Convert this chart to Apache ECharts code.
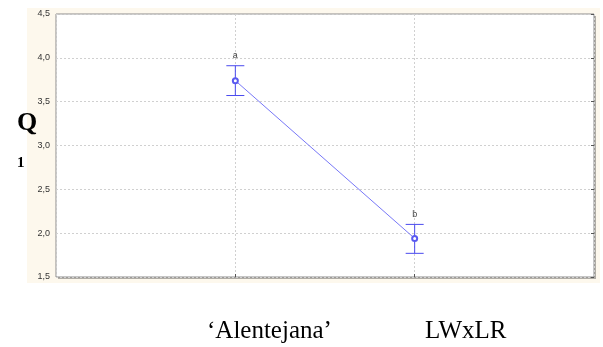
<!DOCTYPE html>
<html>
<head>
<meta charset="utf-8">
<script src="https://cdn.jsdelivr.net/npm/echarts@6/dist/echarts.min.js"></script>
<style>
  html, body { margin: 0; padding: 0; background: #fff; }
  #chart { width: 603px; height: 347px; }
</style>
</head>
<body>
<div id="chart"></div>
<script>
// data
var categories = ['\u2018Alentejana\u2019', 'LWxLR'];
var means = [3.74, 1.94];
var upper = [3.91, 2.10];
var lower = [3.57, 1.77];
var groupLetters = ['a', 'b'];
var yTicks = [1.5, 2.0, 2.5, 3.0, 3.5, 4.0, 4.5];

// padded category axis so the two groups sit at 1/3 and 2/3 of the width
var axisCats = [''].concat(categories).concat(['']);

var myChart = echarts.init(document.getElementById('chart'));

var gridLine = { show: true, lineStyle: { color: '#d0d0d0', type: [2, 2], width: 1 } };
var serif = '"Liberation Serif", "DejaVu Serif", serif';

var option = {
  animation: false,
  grid: {
    left: 56, top: 14, right: 9, bottom: 70,
    show: true,
    backgroundColor: '#fff',
    borderColor: '#8c8c8c',
    borderWidth: 1
  },
  graphic: [
    { type: 'rect', z: -10, shape: { x: 27, y: 8, width: 573, height: 275 }, style: { fill: '#fdf8ed' } },
    // drop shadow of the plot frame
    { type: 'rect', z: -9, shape: { x: 58, y: 16, width: 538, height: 263 }, style: { fill: '#b0ada6' } },
    { type: 'text', left: 17, top: 110, style: { text: 'Q', font: 'bold 26px ' + serif, fill: '#000' } },
    { type: 'text', left: 17, top: 156, style: { text: '1', font: 'bold 15px ' + serif, fill: '#000' } },
    { type: 'text', left: 207, top: 319, style: { text: categories[0], font: '25px ' + serif, fill: '#000' } },
    { type: 'text', left: 425, top: 319, style: { text: categories[1], font: '25px ' + serif, fill: '#000' } }
  ],
  xAxis: {
    type: 'category',
    data: axisCats,
    boundaryGap: false,
    axisLine: { show: false },
    axisTick: { show: true, inside: true, length: 3, lineStyle: { color: '#555' }, interval: function (i) { return i > 0 && i < axisCats.length - 1; } },
    axisLabel: { show: false },
    splitLine: gridLine
  },
  yAxis: [{
    type: 'value',
    min: yTicks[0],
    max: yTicks[yTicks.length - 1],
    interval: 0.5,
    axisLine: { show: false },
    axisTick: { show: false },
    axisLabel: {
      color: '#333',
      fontSize: 9,
      fontFamily: 'Liberation Sans, Arial, sans-serif',
      margin: 6,
      formatter: function (v) { return v.toFixed(1).replace('.', ','); }
    },
    splitLine: gridLine
  }, {
    type: 'value',
    position: 'right',
    min: yTicks[0],
    max: yTicks[yTicks.length - 1],
    interval: 0.5,
    axisLine: { show: false },
    axisTick: { show: true, inside: true, length: 3, lineStyle: { color: '#555' } },
    axisLabel: { show: false },
    splitLine: { show: false }
  }],
  series: [
    {
      type: 'line',
      data: means.map(function (m, i) { return [categories[i], m]; }),
      symbol: 'emptyCircle',
      symbolSize: 5,
      lineStyle: { color: '#7878f8', width: 1 },
      itemStyle: { color: '#5a5af0', borderWidth: 1 },
      z: 3
    },
    {
      type: 'custom',
      data: means.map(function (m, i) { return [categories[i], lower[i], upper[i], groupLetters[i]]; }),
      renderItem: function (params, api) {
        var top = api.coord([api.value(0), api.value(2)]);
        var bot = api.coord([api.value(0), api.value(1)]);
        var hw = 9;
        var st = { stroke: '#4a4aee', lineWidth: 1 };
        return {
          type: 'group',
          children: [
            { type: 'line', shape: { x1: top[0], y1: top[1], x2: bot[0], y2: bot[1] }, style: st },
            { type: 'line', shape: { x1: top[0] - hw, y1: top[1], x2: top[0] + hw, y2: top[1] }, style: st },
            { type: 'line', shape: { x1: bot[0] - hw, y1: bot[1], x2: bot[0] + hw, y2: bot[1] }, style: st },
            { type: 'text', x: top[0], y: top[1] - 10, style: {
              text: groupLetters[params.dataIndex], align: 'center', verticalAlign: 'middle',
              font: '9px "Liberation Sans", Arial, sans-serif', fill: '#444' } }
          ]
        };
      },
      z: 2
    }
  ]
};

myChart.setOption(option);
</script>
</body>
</html>
